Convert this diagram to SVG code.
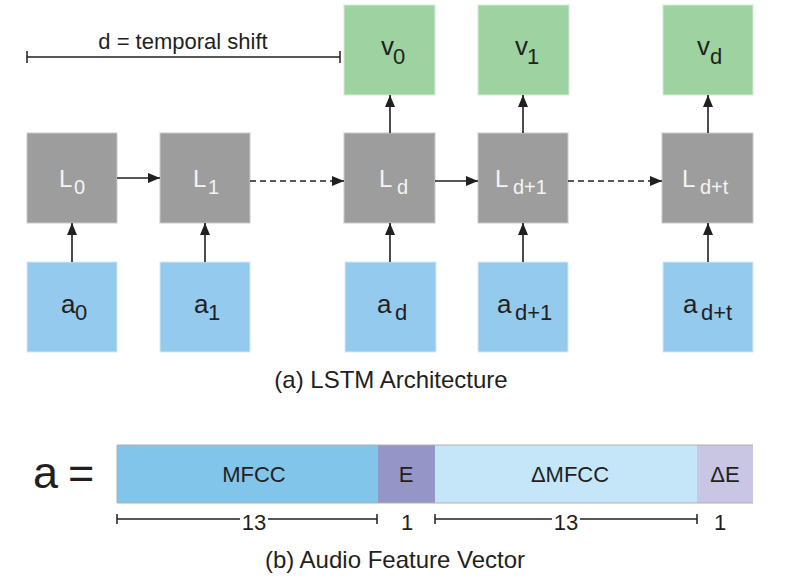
<svg xmlns="http://www.w3.org/2000/svg" width="788" height="579" viewBox="0 0 788 579">
<style>
text{font-family:"Liberation Sans",Arial,sans-serif;fill:#231f20}
.lstm{fill:#9d9d9d;stroke:#c9c9c9;stroke-width:1}
.in{fill:#93caed;stroke:#d6e9f6;stroke-width:1}
.out{fill:#9dd3a1;stroke:#d4ecd5;stroke-width:1}
.lt{fill:#f4f4f4;font-size:24px}
.ls{fill:#f4f4f4;font-size:20px}
.at{font-size:26px}
.as{font-size:22px}
.conn{stroke:#231f20;stroke-width:1.6;fill:none}
.dash{stroke-dasharray:6 4}
.dim{stroke:#231f20;stroke-width:1.5;fill:none}
.seg{stroke:#b0b0b0;stroke-width:1}
.num{font-size:22px;text-anchor:middle}
.lab{font-size:22px;text-anchor:middle}
.cap{font-size:24px;text-anchor:middle}
</style>
<defs>
<marker id="ah" viewBox="0 0 12 10" refX="12" refY="5" markerWidth="12" markerHeight="10" markerUnits="userSpaceOnUse" orient="auto">
<path d="M0,0 L12,5 L0,10 Z" fill="#231f20"/>
</marker>
</defs>

<g id="shift">
<path class="dim" d="M27,57 H340 M27,51 V63 M340,51 V63"/>
<text x="183" y="49" font-size="22" text-anchor="middle">d = temporal shift</text>
</g>

<g id="v0"><rect class="out" x="344" y="5" width="91" height="90"/><text class="at" x="381" y="55">v</text><text class="as" x="393" y="64">0</text></g>
<g id="v1"><rect class="out" x="478" y="5" width="91" height="90"/><text class="at" x="515" y="55">v</text><text class="as" x="527" y="64">1</text></g>
<g id="vd"><rect class="out" x="663" y="5" width="90" height="90"/><text class="at" x="697" y="55">v</text><text class="as" x="710" y="64">d</text></g>

<g id="L0"><rect class="lstm" x="27" y="133" width="90" height="90"/><text class="lt" x="59" y="187">L</text><text class="ls" x="74" y="194">0</text></g>
<g id="L1"><rect class="lstm" x="160" y="133" width="90" height="90"/><text class="lt" x="193" y="187">L</text><text class="ls" x="208" y="194">1</text></g>
<g id="Ld"><rect class="lstm" x="344" y="133" width="91" height="90"/><text class="lt" x="379" y="187">L</text><text class="ls" x="397" y="194">d</text></g>
<g id="Ld1"><rect class="lstm" x="478" y="133" width="90" height="90"/><text class="lt" x="495" y="187">L</text><text class="ls" x="513" y="194">d+1</text></g>
<g id="Ldt"><rect class="lstm" x="662" y="133" width="91" height="90"/><text class="lt" x="682" y="187">L</text><text class="ls" x="700" y="194">d+t</text></g>

<g id="a0"><rect class="in" x="27" y="262" width="90" height="90"/><text class="at" x="61" y="313">a</text><text class="as" x="75" y="320">0</text></g>
<g id="a1"><rect class="in" x="160" y="262" width="90" height="90"/><text class="at" x="194" y="313">a</text><text class="as" x="208" y="320">1</text></g>
<g id="ad"><rect class="in" x="345" y="262" width="91" height="90"/><text class="at" x="377" y="313">a</text><text class="as" x="395" y="320">d</text></g>
<g id="ad1"><rect class="in" x="478" y="262" width="90" height="90"/><text class="at" x="497" y="313">a</text><text class="as" x="515" y="320">d+1</text></g>
<g id="adt"><rect class="in" x="663" y="262" width="90" height="90"/><text class="at" x="683" y="313">a</text><text class="as" x="701" y="320">d+t</text></g>

<g id="connectors">
<path class="conn" d="M117,178 H160" marker-end="url(#ah)"/>
<path class="conn dash" d="M250,181 H344" marker-end="url(#ah)"/>
<path class="conn" d="M435,181 H478" marker-end="url(#ah)"/>
<path class="conn dash" d="M568,181 H662" marker-end="url(#ah)"/>
<path class="conn" d="M72,262 V223" marker-end="url(#ah)"/>
<path class="conn" d="M205,262 V223" marker-end="url(#ah)"/>
<path class="conn" d="M390,262 V223" marker-end="url(#ah)"/>
<path class="conn" d="M523,262 V223" marker-end="url(#ah)"/>
<path class="conn" d="M708,262 V223" marker-end="url(#ah)"/>
<path class="conn" d="M390,133 V95" marker-end="url(#ah)"/>
<path class="conn" d="M523,133 V95" marker-end="url(#ah)"/>
<path class="conn" d="M708,133 V95" marker-end="url(#ah)"/>
</g>

<text class="cap" x="391" y="388">(a) LSTM Architecture</text>

<g id="vector">
<text x="33" y="488" font-size="45">a</text>
<text x="68" y="488" font-size="45">=</text>
<rect x="117" y="445" width="261" height="58" fill="#82c5eb"/>
<rect x="378" y="445" width="57" height="58" fill="#9595c8"/>
<rect x="435" y="445" width="262" height="58" fill="#c4e6f8"/>
<rect x="697" y="445" width="56" height="58" fill="#c8c6e2"/>
<path class="seg" d="M117,445 H753 M117,503 H753 M117,445 V503"/>
<text class="lab" x="254" y="482">MFCC</text>
<text class="lab" x="406" y="482">E</text>
<text class="lab" x="570" y="482">ΔMFCC</text>
<text class="lab" x="725" y="482">ΔE</text>
</g>

<g id="dims">
<path class="dim" d="M117,519 H240 M268,519 H377 M117,514 V524 M377,514 V524"/>
<text class="num" x="254" y="530">13</text>
<text class="num" x="407" y="530">1</text>
<path class="dim" d="M435,519 H552 M580,519 H697 M435,514 V524 M697,514 V524"/>
<text class="num" x="566" y="530">13</text>
<text class="num" x="720" y="530">1</text>
</g>

<text class="cap" x="395" y="568">(b) Audio Feature Vector</text>
</svg>
